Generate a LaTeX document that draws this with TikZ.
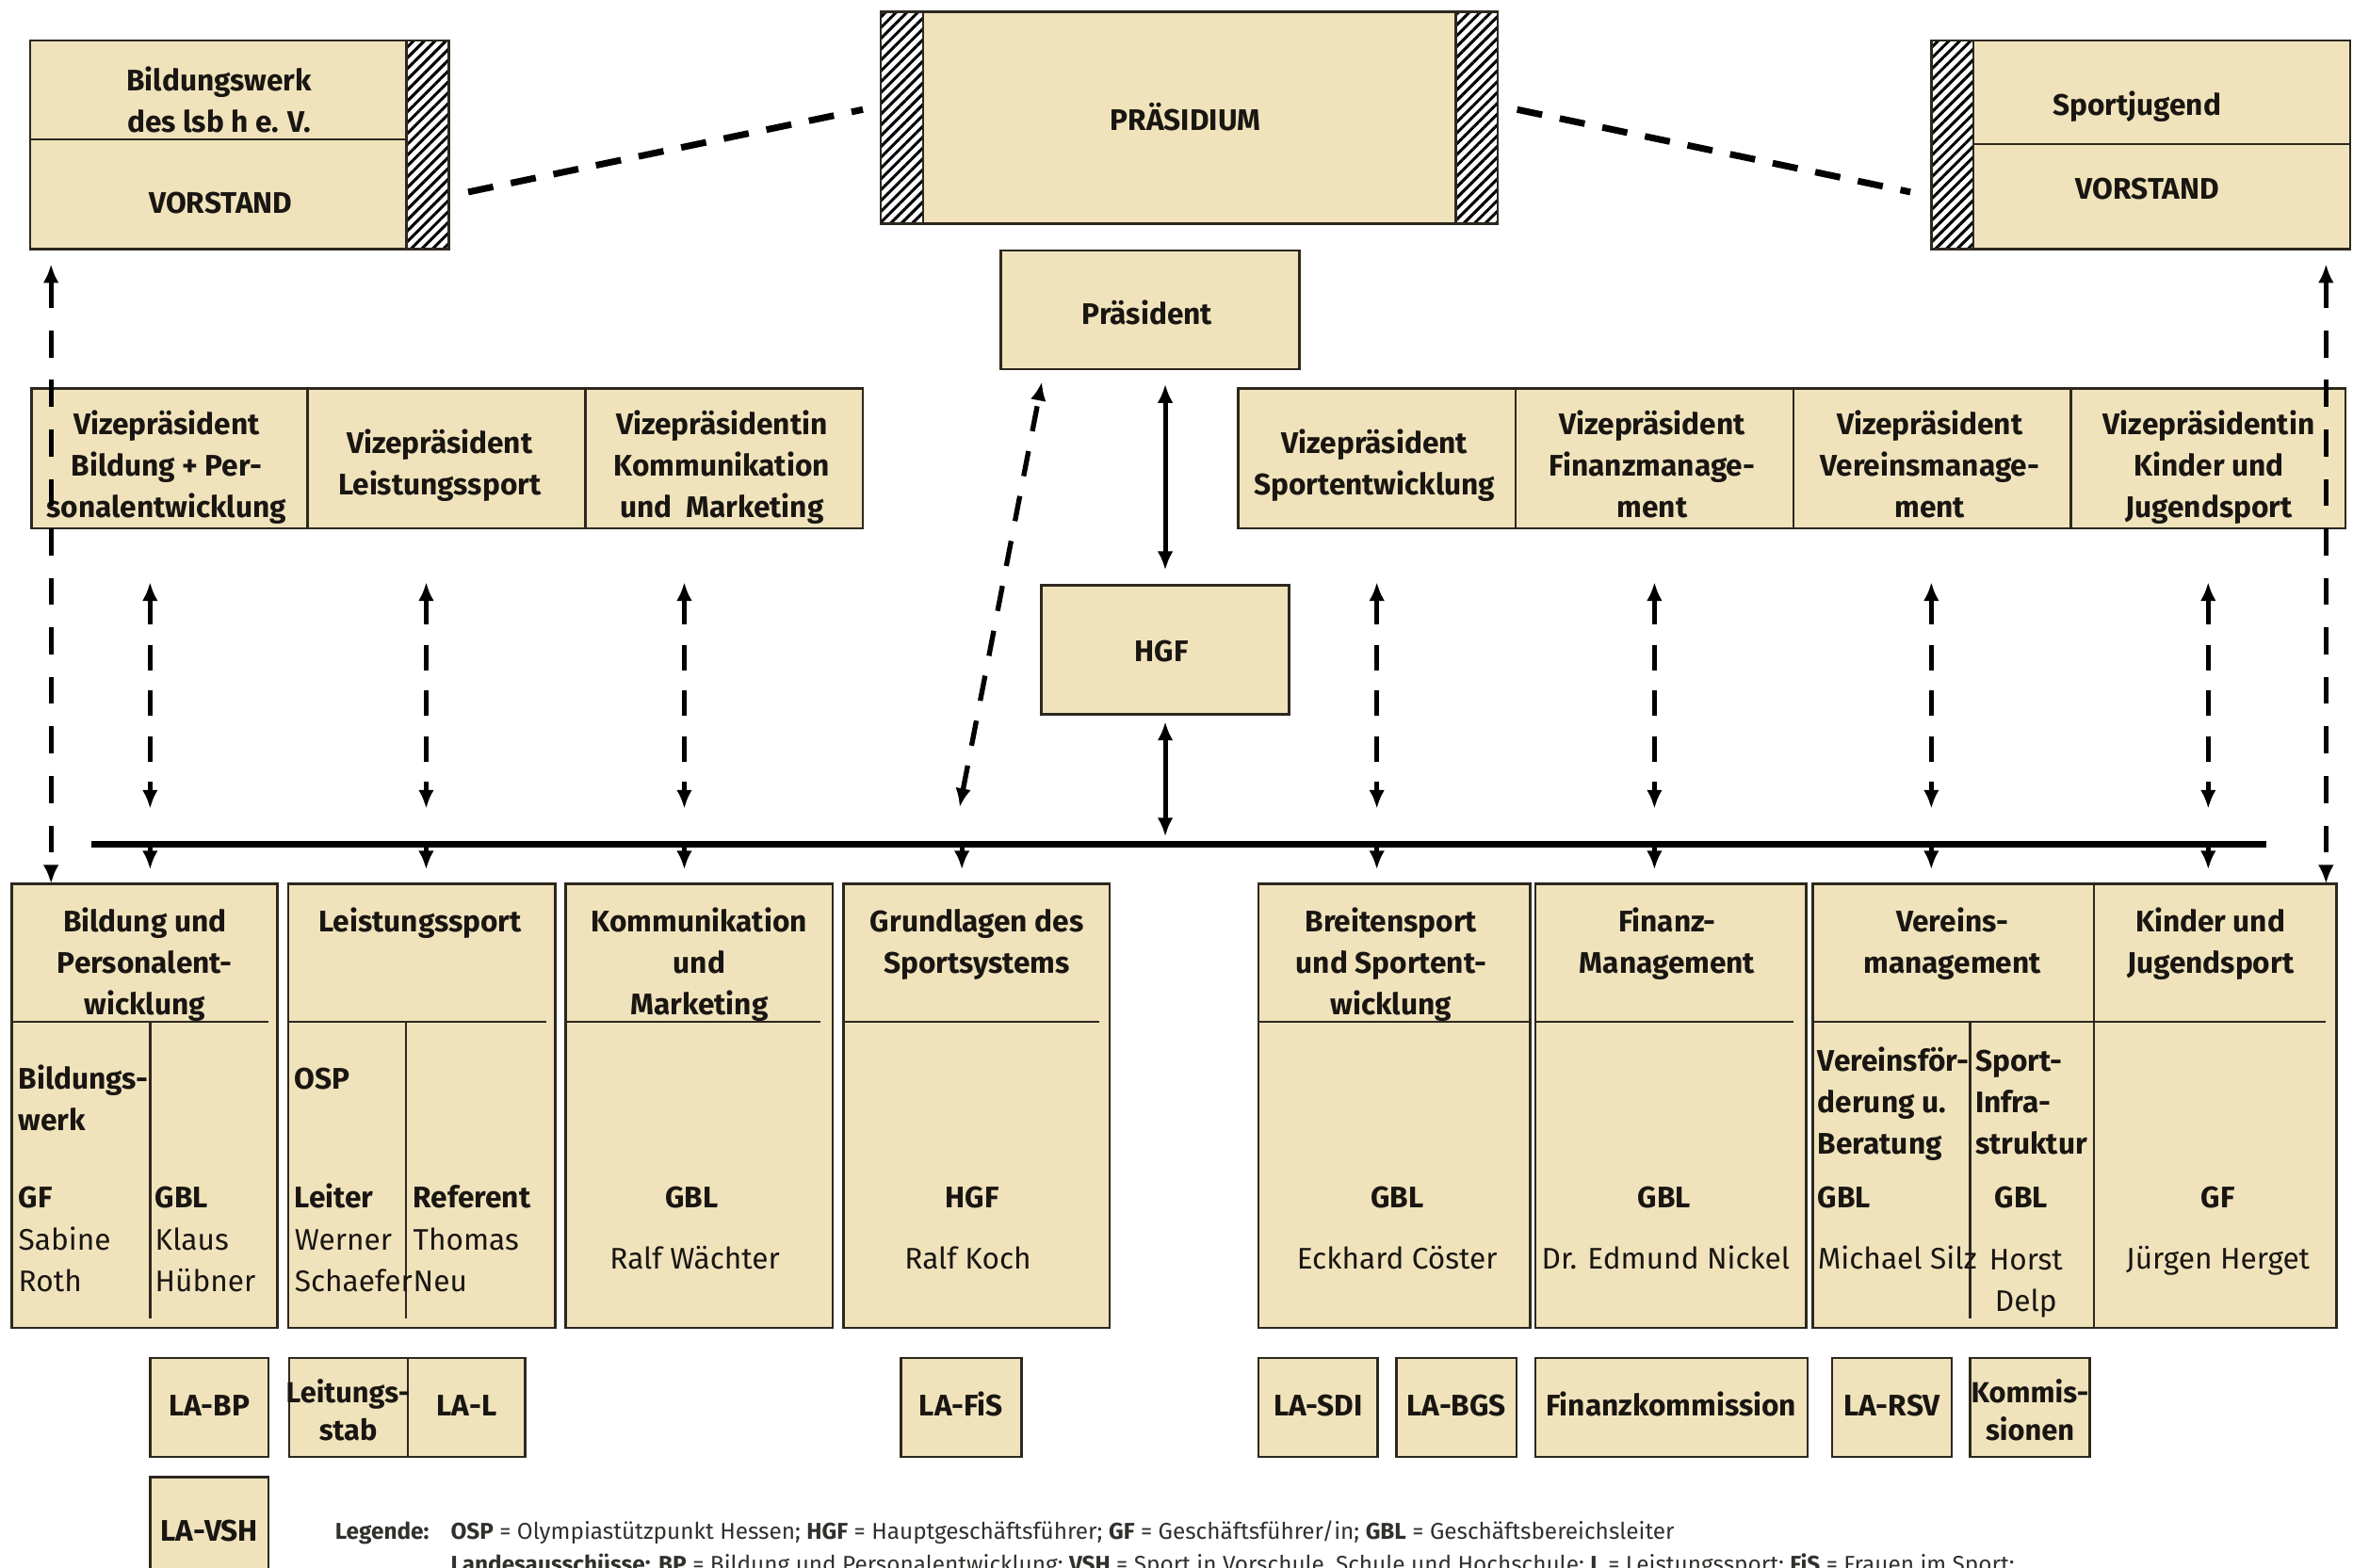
\documentclass[tikz,border=0pt]{standalone}
\usepackage{fontspec}
\setmainfont{Fira Sans}
\usetikzlibrary{arrows.meta,patterns.meta}
\definecolor{beige}{RGB}{240,227,188}
\definecolor{edge}{RGB}{45,40,30}
\definecolor{txt}{RGB}{25,22,18}
\definecolor{leg}{RGB}{50,48,45}
\newcommand\rbox[6][ubox]{\node[#1,minimum width={(#5-#3)*0.02cm},minimum height={(#6-#4)*0.02cm}] (#2) at ({(#3+#5)/2},{(#4+#6)/2}) {};}
\begin{document}
\begin{tikzpicture}[x=0.02cm,y=-0.02cm,
  >={Latex[length=0.25cm,width=0.21cm]},
  ubox/.style={draw=edge,fill=beige,line width=0.9pt,inner sep=0pt,outer sep=0pt},
  hatchbox/.style={draw=edge,line width=0.9pt,inner sep=0pt,outer sep=0pt,pattern={Lines[angle=45,distance=2.9pt,line width=1.1pt]}},
  hd/.style={font=\bfseries\fontsize{11.3}{15.65}\selectfont,text=txt,align=center,inner sep=0pt,anchor=base},
  hdl/.style={hd,align=left,anchor=base west},
  nm/.style={font=\fontsize{11.3}{15.65}\selectfont,text=txt,align=center,inner sep=0pt,anchor=base},
  nml/.style={nm,align=left,anchor=base west},
  divl/.style={draw=edge,line width=1pt},
  topdash/.style={line width=2.5pt,dash pattern=on 0.34cm off 0.24cm},
  dd/.style={line width=1.9pt,dash pattern=on 0.34cm off 0.27cm,<->},
  longdash/.style={line width=1.9pt,dash pattern=on 0.36cm off 0.3cm,<->},
  sarrow/.style={line width=1.8pt,<->},
  short/.style={line width=1.8pt,->,shorten >=0.19cm},
  barline/.style={line width=2.6pt},
  legf/.style={font=\fontsize{8.7}{11}\selectfont,text=leg,anchor=base west,inner sep=0pt}
]
\useasboundingbox (0,0) rectangle (1568,1045);

% ---------- top row ----------
\rbox{bw1}{20}{27}{271}{93}
\rbox{bw2}{20}{93}{271}{166}
\rbox[hatchbox]{bwh}{271}{27}{299}{166}
\node[hd] (tbw1) at (146,88) {Bildungswerk\\des lsb h e. V.};
\node[hd] (tbw2) at (147,142) {VORSTAND};

\rbox{pr}{615}{8}{970}{149}
\rbox[hatchbox]{prl}{587}{8}{615}{149}
\rbox[hatchbox]{prr}{970}{8}{998}{149}
\node[hd] (tpr) at (790,87) {PRÄSIDIUM};

\rbox{sj1}{1315}{27}{1566}{96}
\rbox{sj2}{1315}{96}{1566}{166}
\rbox[hatchbox]{sjh}{1287}{27}{1315}{166}
\node[hd] (tsj1) at (1424,77) {Sportjugend};
\node[hd] (tsj2) at (1431,133) {VORSTAND};

\coordinate (d1a) at (312,128); \coordinate (d1b) at (575,73);
\draw[topdash] (d1a) -- (d1b);
\coordinate (d2a) at (1011,73); \coordinate (d2b) at (1273,128);
\draw[topdash] (d2a) -- (d2b);

% ---------- President / HGF ----------
\rbox{praes}{667}{167}{866}{246}
\node[hd] (tpraes) at (764.5,216) {Präsident};
\rbox{hgf}{694}{390}{859}{476}
\node[hd] (thgf) at (774,441) {HGF};

% ---------- vice presidents ----------
\rbox{v1}{21}{259}{205}{352}
\rbox{v2}{205}{259}{390}{352}
\rbox{v3}{390}{259}{575}{352}
\node[hd] (tv1) at (111,344.7) {Vizepräsident\\Bildung + Per-\\sonalentwicklung};
\node[hd] (tv2) at (293,329.6) {Vizepräsident\\Leistungssport};
\node[hd] (tv3) at (481,344.7) {Vizepräsidentin\\Kommunikation\\und\ \ Marketing};
\rbox{v4}{825}{259}{1010}{352}
\rbox{v5}{1010}{259}{1195}{352}
\rbox{v6}{1195}{259}{1380}{352}
\rbox{v7}{1380}{259}{1563}{352}
\node[hd] (tv4) at (916,329.6) {Vizepräsident\\Sportentwicklung};
\node[hd] (tv5) at (1101,344.7) {Vizepräsident\\Finanzmanage-\\ment};
\node[hd] (tv6) at (1286,344.7) {Vizepräsident\\Vereinsmanage-\\ment};
\node[hd] (tv7) at (1472,344.7) {Vizepräsidentin\\Kinder und\\Jugendsport};

% ---------- departments ----------
\rbox{b1}{8}{589}{185}{885}
\rbox{b2}{192}{589}{370}{885}
\rbox{b3}{377}{589}{555}{885}
\rbox{b4}{562}{589}{739.5}{885}
\rbox{b5}{838.6}{589}{1019.8}{885}
\rbox{b6}{1023}{589}{1203.5}{885}
\rbox{b7}{1208}{589}{1395.4}{885}
\rbox{b8}{1395.4}{589}{1557}{885}

\draw[divl] (8,681) -- (179,681);
\draw[divl] (100,681) -- (100,879);
\draw[divl] (192,681) -- (364,681);
\draw[divl] (270.5,681) -- (270.5,879);
\draw[divl] (377,681) -- (547,681);
\draw[divl] (562,681) -- (732.5,681);
\draw[divl] (838.6,681) -- (1019.8,681);
\draw[divl] (1023,681) -- (1195,681);
\draw[divl] (1208,681) -- (1395.4,681);
\draw[divl] (1313,681) -- (1313,879);
\draw[divl] (1395.4,681) -- (1550,681);

\node[hd] (hb1) at (96.5,676.2) {Bildung und\\Personalent-\\wicklung};
\node[hdl] (b1a) at (12,753.6) {Bildungs-\\werk};
\node[hdl] (b1b) at (12,805) {GF};
\node[nml] (b1c) at (12,860.6) {Sabine\\Roth};
\node[hdl] (b1d) at (103,805) {GBL};
\node[nml] (b1e) at (103,860.6) {Klaus\\Hübner};

\node[hd] (hb2) at (280,621) {Leistungssport};
\node[hdl] (b2a) at (196,726) {OSP};
\node[hdl] (b2b) at (196,805) {Leiter};
\node[nml] (b2c) at (196,860.6) {Werner\\Schaefer};
\node[hdl] (b2d) at (275,805) {Referent};
\node[nml] (b2e) at (275,860.6) {Thomas\\Neu};

\node[hd] (hb3) at (466,676.2) {Kommunikation\\und\\Marketing};
\node[hd] (b3a) at (461,805) {GBL};
\node[nm] (b3b) at (463,846) {Ralf Wächter};

\node[hd] (hb4) at (651,648.6) {Grundlagen des\\Sportsystems};
\node[hd] (b4a) at (648,805) {HGF};
\node[nm] (b4b) at (645,846) {Ralf Koch};

\node[hd] (hb5) at (927,676.2) {Breitensport\\und Sportent-\\wicklung};
\node[hd] (b5a) at (931,805) {GBL};
\node[nm] (b5b) at (931,846) {Eckhard Cöster};

\node[hd] (hb6) at (1111,648.6) {Finanz-\\Management};
\node[hd] (b6a) at (1109,805) {GBL};
\node[nm] (b6b) at (1110,846) {Dr. Edmund Nickel};

\node[hd] (hb7) at (1301,648.6) {Vereins-\\management};
\node[hdl] (b7a) at (1211,769.2) {Vereinsför-\\derung u.\\Beratung};
\node[hdl] (b7b) at (1211,805) {GBL};
\node[nml] (b7c) at (1211,846) {Michael Silz};
\node[hdl] (b7d) at (1316,769.2) {Sport-\\Infra-\\struktur};
\node[hd] (b7e) at (1347,805) {GBL};
\node[nm] (b7f) at (1350,874) {Horst\\Delp};

\node[hd] (hb8) at (1473,648.6) {Kinder und\\Jugendsport};
\node[hd] (b8a) at (1478,805) {GF};
\node[nm] (b8b) at (1478,846) {Jürgen Herget};

% ---------- committees ----------
\rbox{la1}{100}{905}{179}{971}
\rbox{la2}{192.6}{905}{271.7}{971}
\rbox{la3}{271.7}{905}{350}{971}
\rbox{la4}{600.5}{905}{680.6}{971}
\rbox{la5}{838.6}{905}{918}{971}
\rbox{la6}{930.5}{905}{1010.5}{971}
\rbox{la7}{1023}{905}{1204.4}{971}
\rbox{la8}{1220.8}{905}{1300.7}{971}
\rbox{la9}{1312.7}{905}{1392.7}{971}
\rbox{la10}{100}{984.5}{179}{1070}
\node[hd] (tla1) at (139.5,944) {LA-BP};
\node[hd,font=\bfseries\fontsize{11}{14.2}\selectfont] (tla2) at (232,960) {Leitungs-\\stab};
\node[hd] (tla3) at (311,944) {LA-L};
\node[hd] (tla4) at (640.5,944) {LA-FiS};
\node[hd] (tla5) at (878.3,944) {LA-SDI};
\node[hd] (tla6) at (970.5,944) {LA-BGS};
\node[hd] (tla7) at (1113.7,944) {Finanzkommission};
\node[hd] (tla8) at (1260.7,944) {LA-RSV};
\node[hd,font=\bfseries\fontsize{11}{14.2}\selectfont] (tla9) at (1352.7,960) {Kommis-\\sionen};
\node[hd] (tla10) at (139.5,1027) {LA-VSH};

% ---------- connectors ----------
\coordinate (barL) at (61,562.5);
\coordinate (barR) at (1510.5,562.5);
\draw[barline] (barL) -- (barR);

\draw[sarrow,shorten <=0.2cm,shorten >=0.2cm] (praes.south -| hgf.north) -- (hgf.north);
\draw[sarrow,shorten <=0.1cm,shorten >=0.1cm] (hgf.south) -- (hgf.south |- barL);

\foreach \x/\n in {100/1,284/2,456/3,917.5/5,1102.5/6,1287/7,1471.5/8}{
  \coordinate (vt\n) at (\x,388);
  \coordinate (vb\n) at (\x,539);
  \draw[dd] (vt\n) -- (vb\n);
  \draw[short] (vt\n |- barL) -- (vt\n |- b\n.north);
}
\coordinate (dgt) at (694.3,254.5);
\coordinate (dgb) at (639.5,538);
\draw[dd] (dgb) -- (dgt);
\coordinate (s4) at (641,562.5);
\draw[short] (s4) -- (s4 |- b4.north);

\coordinate (ltop) at (34,176);
\draw[longdash] (ltop) -- (ltop |- b1.north);
\coordinate (rtop) at (1550,176);
\draw[longdash] (rtop) -- (rtop |- b8.north);

% ---------- legend ----------
\node[legf,font=\bfseries\fontsize{8.7}{11}\selectfont] (lg) at (223,1026) {Legende:};
\node[legf] (lg1) at (300,1026) {\textbf{OSP} = Olympiastützpunkt Hessen; \textbf{HGF} = Hauptgeschäftsführer; \textbf{GF} = Geschäftsführer/in; \textbf{GBL} = Geschäftsbereichsleiter};
\node[legf] (lg2) at (300,1048) {\textbf{Landesausschüsse:} \textbf{BP} = Bildung und Personalentwicklung; \textbf{VSH} = Sport in Vorschule, Schule und Hochschule; \textbf{L} = Leistungssport; \textbf{FiS} = Frauen im Sport;};
\end{tikzpicture}
\end{document}
